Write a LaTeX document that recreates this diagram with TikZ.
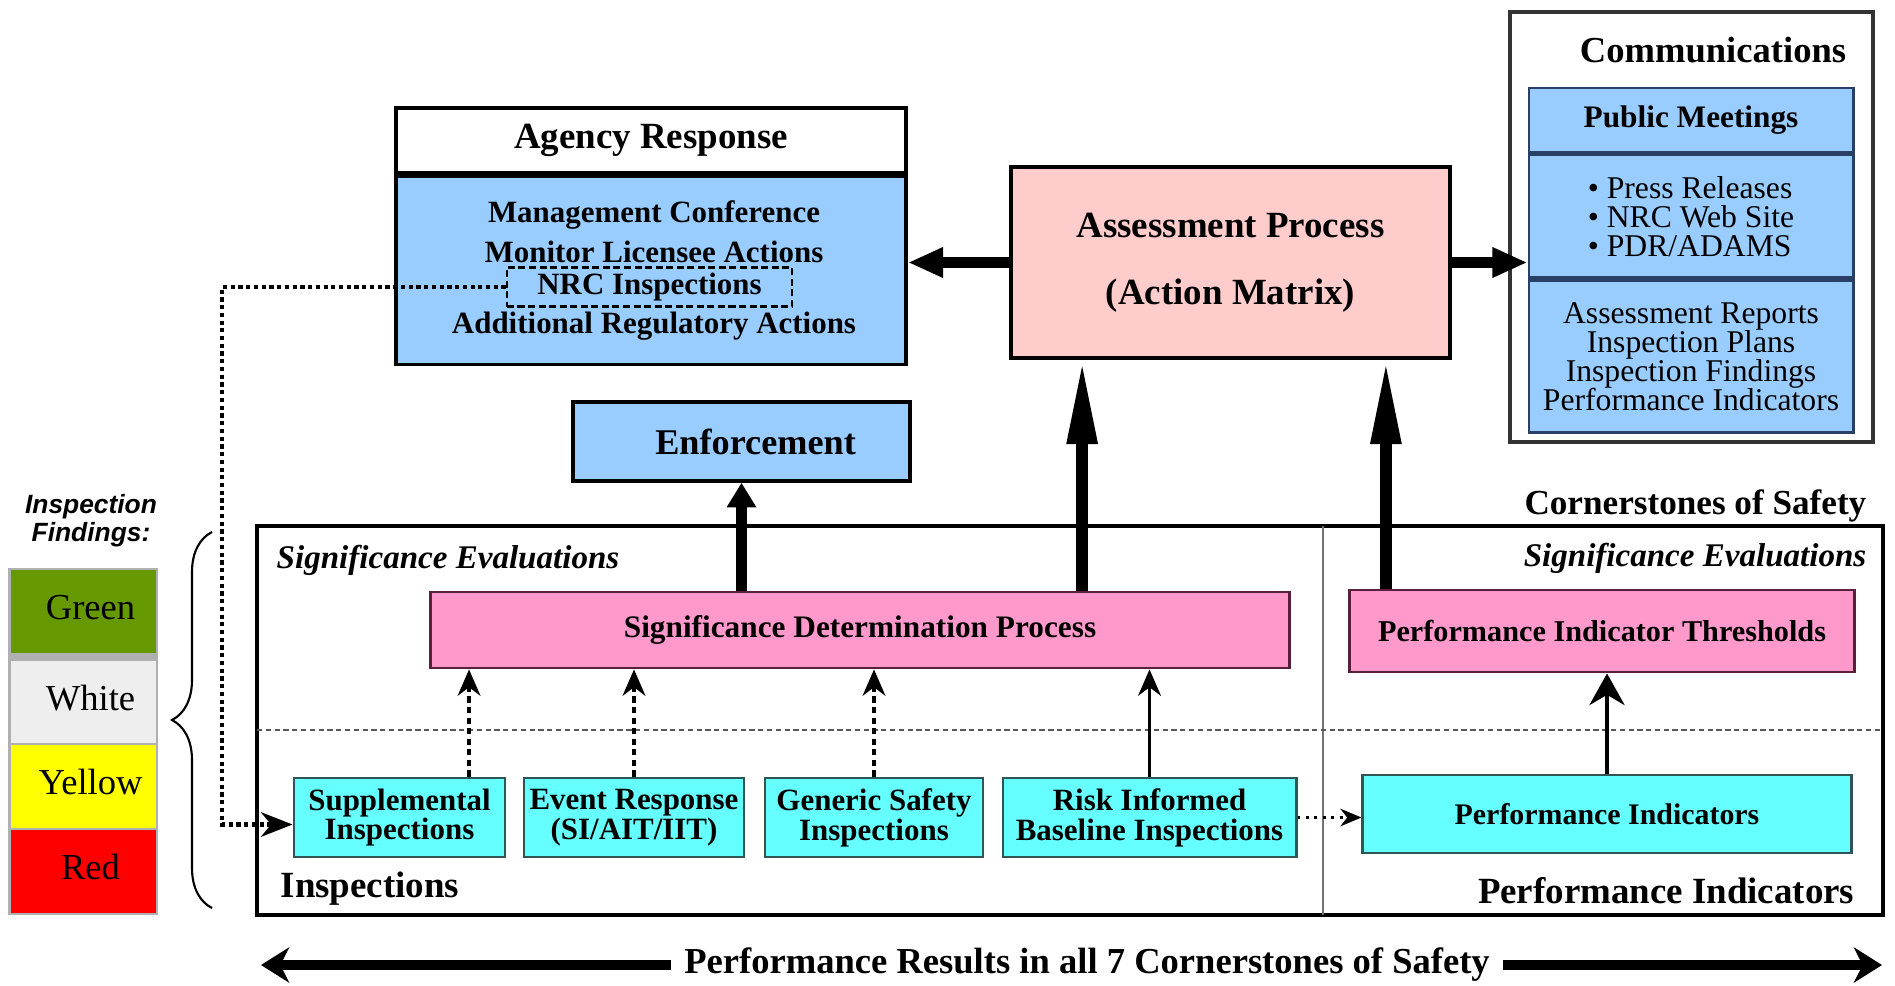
\documentclass[tikz,border=0pt]{standalone}
\usepackage{fontspec}
\setmainfont{Liberation Serif}
\newfontfamily\labelsans{Liberation Sans}
\usetikzlibrary{arrows.meta}
\usetikzlibrary{decorations.pathreplacing, positioning}
\definecolor{agencyblue}{HTML}{99CCFF}
\definecolor{assesspink}{HTML}{FFCCCC}
\definecolor{sdppink}{HTML}{FF99CC}
\definecolor{sdpborder}{HTML}{5A1F3A}
\definecolor{inscyan}{HTML}{66FFFF}
\definecolor{insborder}{HTML}{2F5555}
\definecolor{commblue}{HTML}{2A3F66}
\definecolor{commgray}{HTML}{333333}
\definecolor{findgreen}{HTML}{669900}
\definecolor{findwhite}{HTML}{EEEEEE}
\definecolor{findyellow}{HTML}{FFFF00}
\definecolor{findred}{HTML}{FF0000}
\definecolor{legendgray}{HTML}{B0B0B0}
\newcommand\setfs[2]{\fontsize{#1}{#2}\selectfont}

\tikzset{
  box/.style={draw=black, line width=1pt, inner sep=0pt},
  bluebox/.style={box, fill=agencyblue},
  agencyline/.style={inner sep=0pt, font=\setfs{8.8}{10}\bfseries},
  commbox/.style={draw=commblue, line width=.8pt, fill=agencyblue, inner sep=0pt, minimum width=3.24cm},
  findbox/.style={inner sep=0pt, minimum width=1.45cm, minimum height=.83cm, font=\setfs{10.4}{12}},
  sdpbox/.style={draw=sdpborder, line width=.8pt, fill=sdppink, inner sep=0pt},
  insbox/.style={draw=insborder, line width=.8pt, fill=inscyan, inner sep=0pt, minimum height=.79cm, align=center, font=\setfs{8.8}{8.5}\bfseries},
  sectionlabel/.style={inner sep=0pt, font=\setfs{10.5}{12}\bfseries},
  evallabel/.style={inner sep=0pt, font=\setfs{9.4}{11}\bfseries\itshape},
  bigarrow/.style={line width=3.3pt, -{Triangle[length=24pt,width=8pt]}},
  sidearrow/.style={line width=3.3pt, -{Triangle[length=10pt,width=8pt]}},
  insarrow/.style={line width=.9pt, dash pattern=on 1.8pt off 1.2pt, -{Stealth[length=7.5pt,width=6.5pt]}},
  solidinsarrow/.style={line width=.9pt, -{Stealth[length=7.5pt,width=6.5pt]}},
  dotconn/.style={line width=1.2pt, dash pattern=on 1.2pt off 1pt, -{Stealth[length=9pt,width=7pt]}},
  resarrow/.style={line width=2.8pt, -{Stealth[length=8pt,width=10pt,inset=2.5pt]}}
}

\begin{document}
\begin{tikzpicture}[x=0.01cm, y=-0.01cm]
  \useasboundingbox (0,0) rectangle (1895,985);

  % findings legend
  \node[align=center, inner sep=0pt, font=\labelsans\bfseries\itshape\setfs{7.5}{8}] (findtitle) at (91,521) {Inspection\\Findings:};
  \fill[legendgray] (8,568) rectangle (158,915);
  \node[findbox, fill=findgreen] (green) at (83.5,611.5) {\raisebox{2.5pt}{\hspace{4pt}Green}};
  \node[findbox, fill=findwhite, minimum height=.82cm] (white) at (83.5,702) {\raisebox{2.5pt}{\hspace{4pt}White}};
  \node[findbox, fill=findyellow] (yellow) at (83.5,786.5) {\raisebox{2.5pt}{\hspace{4pt}Yellow}};
  \node[findbox, fill=findred] (red) at (83.5,871.5) {\raisebox{2.5pt}{\hspace{4pt}Red}};
  \draw[line width=.6pt, decorate, decoration={brace, amplitude=.4cm}] (212,908) -- (212,532);

  % agency response
  \node[box, fill=white, minimum width=5.10cm, minimum height=.65cm, font=\setfs{10.5}{12}\bfseries] (agencyhead) at (651,140.5) {Agency Response};
  \node[bluebox, minimum width=5.10cm, minimum height=1.88cm, below=0pt of agencyhead] (agencybody) {};
  \node[agencyline] (mgmt) at (654,215) {Management Conference};
  \node[agencyline] (monitor) at (654,252) {Monitor Licensee Actions};
  \node[agencyline, draw=black, line width=.7pt, dash pattern=on 2pt off 1pt, minimum width=2.85cm, minimum height=.39cm] (nrc) at (649.5,287) {NRC Inspections};
  \node[agencyline] (addl) at (654,326) {Additional Regulatory Actions};

  % assessment
  \node[box, fill=assesspink, minimum width=4.39cm, minimum height=1.91cm, align=center, font=\setfs{10.5}{19}\bfseries] (assess) at (1230.5,262.5) {Assessment Process\\(Action Matrix)};

  % communications
  \node[draw=commgray, line width=1pt, minimum width=3.63cm, minimum height=4.30cm, inner sep=0pt] (commframe) at (1691.5,227) {};
  \node[inner sep=0pt, font=\setfs{10.4}{12}\bfseries] (commtitle) at (1713,50) {Communications};
  \node[commbox, minimum height=.64cm, font=\setfs{8.9}{10}\bfseries] (pubmeet) at (1691,120) {Public Meetings};
  \node[commbox, minimum height=1.23cm, below=0pt of pubmeet, align=left, font=\setfs{9}{8.3}] (media) {\textbullet\ Press Releases\\\textbullet\ NRC Web Site\\\textbullet\ PDR/ADAMS};
  \node[commbox, minimum height=1.52cm, below=0pt of media, align=center, font=\setfs{9}{8.3}] (reports) {Assessment Reports\\Inspection Plans\\Inspection Findings\\Performance Indicators};

  % enforcement
  \node[bluebox, minimum width=3.37cm, minimum height=.79cm, font=\setfs{10.3}{12}\bfseries] (enforce) at (741.5,441.5) {\hspace{8pt}Enforcement};

  % cornerstones frame
  \draw[line width=1pt] (257,526) rectangle (1883,915);
  \draw[line width=.7pt, black!55] (1323,526) -- (1323,915);
  \draw[line width=.8pt, black!65, dash pattern=on 1.5pt off 1pt] (257,730) -- (1883,730);
  \node[sectionlabel, font=\setfs{10}{12}\bfseries, anchor=east] (cornerlabel) at (1867,506) {Cornerstones of Safety};
  \node[evallabel, anchor=west] (evalleft) at (276,560) {Significance Evaluations};
  \node[evallabel, anchor=east] (evalright) at (1867,558) {Significance Evaluations};
  \node[sectionlabel, anchor=west] (inslabel) at (280,889) {Inspections};
  \node[sectionlabel, anchor=east] (pilabel) at (1855,891) {Performance Indicators};

  \node[sdpbox, minimum width=8.58cm, minimum height=.76cm, font=\setfs{8.9}{10}\bfseries] (sdp) at (860,630) {Significance Determination Process};
  \node[sdpbox, minimum width=5.04cm, minimum height=.82cm, font=\setfs{8.6}{10}\bfseries] (pit) at (1602,631) {Performance Indicator Thresholds};

  \node[insbox, minimum width=2.11cm] (supp) at (399.5,817.5) {Supplemental\\Inspections};
  \node[insbox, minimum width=2.20cm] (event) at (634,817.5) {Event Response\\(SI/AIT/IIT)};
  \node[insbox, minimum width=2.18cm] (generic) at (874,817.5) {Generic Safety\\Inspections};
  \node[insbox, minimum width=2.93cm] (risk) at (1149.5,817.5) {Risk Informed\\Baseline Inspections};
  \node[insbox, minimum width=4.88cm, minimum height=.78cm, font=\setfs{8.5}{10}\bfseries] (pi) at (1607,814) {Performance Indicators};

  % connectors
  \draw[insarrow] ([xshift=.695cm]supp.north) -- ([xshift=.695cm]supp.north |- sdp.south);
  \draw[insarrow] (event.north) -- (event.north |- sdp.south);
  \draw[insarrow] (generic.north) -- (generic.north |- sdp.south);
  \draw[solidinsarrow] (risk.north) -- (risk.north |- sdp.south);
  \draw[line width=1.1pt, -{Stealth[length=9pt,width=10pt]}] (pi.north) -- (pi.north |- pit.south);
  \draw[line width=.8pt, dash pattern=on .8pt off 1.6pt, -{Stealth[length=6pt,width=5pt]}] (risk.east) -- (risk.east -| pi.west);

  \coordinate (loopx) at (222,0);
  \draw[dotconn] (nrc.west) -- (nrc.west -| loopx) -- ([yshift=-.07cm]loopx |- supp.west) -- ([yshift=-.07cm]supp.west);

  \draw[sidearrow, -{Triangle[length=7pt,width=8pt]}] (enforce.south |- sdp.north) -- (enforce.south);
  \draw[bigarrow] ([xshift=2.22cm]sdp.north) -- ([xshift=2.22cm]sdp.north |- assess.south);
  \draw[bigarrow] ([xshift=-2.16cm]pit.north) -- ([xshift=-2.16cm]pit.north |- assess.south);
  \draw[sidearrow] (assess.west) -- (assess.west -| agencybody.east);
  \draw[sidearrow] (assess.east) -- (assess.east -| media.west);

  % results arrow
  \node[inner xsep=.13cm, inner ysep=0pt, font=\setfs{10.4}{12}\bfseries] (results) at (1087,965) {Performance Results in all 7 Cornerstones of Safety};
  \coordinate (resleft) at (261,965);
  \coordinate (resright) at (1882,965);
  \draw[resarrow] (results.west) -- (resleft);
  \draw[resarrow] (results.east) -- (resright);

\end{tikzpicture}
\end{document}
